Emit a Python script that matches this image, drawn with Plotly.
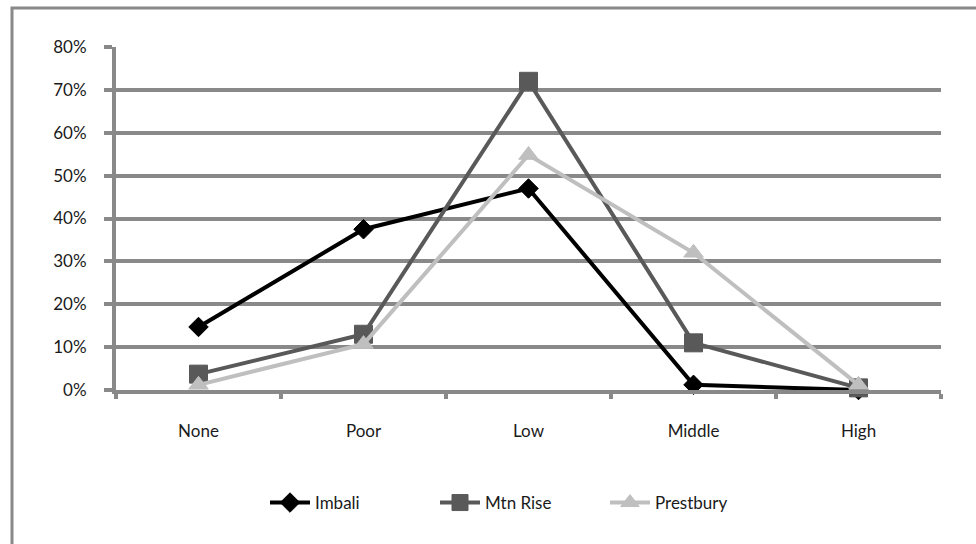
import plotly.graph_objects as go

categories = ["None", "Poor", "Low", "Middle", "High"]
imbali = [0.147, 0.375, 0.47, 0.012, 0.0]
mtn_rise = [0.037, 0.13, 0.72, 0.11, 0.005]
prestbury = [0.012, 0.107, 0.548, 0.32, 0.012]
y_ticks = [0, 0.1, 0.2, 0.3, 0.4, 0.5, 0.6, 0.7, 0.8]

W, H = 976, 544
L, R, T, B = 116, 35, 47, 154
pw, ph = W - L - R, H - T - B

grid = "#898989"
fig = go.Figure()
series = [
    ("Imbali", imbali, "#000000", "diamond", 15),
    ("Mtn Rise", mtn_rise, "#595959", "square", 18),
    ("Prestbury", prestbury, "#bfbfbf", "triangle-up", 17),
]
for name, vals, col, sym, sz in series:
    fig.add_trace(go.Scatter(
        x=categories, y=vals, name=name, mode="lines+markers",
        line=dict(color=col, width=4),
        marker=dict(symbol=sym, size=sz, color=col, line=dict(color=col, width=1)),
        cliponaxis=False,
    ))

def px_to_paper_x(px):
    return (px - L) / pw

def px_to_paper_y(py):
    return (H - B - py) / ph

fig.add_shape(type="rect", xref="paper", yref="paper",
              x0=px_to_paper_x(12), x1=px_to_paper_x(1000),
              y0=px_to_paper_y(580), y1=px_to_paper_y(8),
              line=dict(color=grid, width=3), fillcolor="rgba(0,0,0,0)", layer="below")

fig.update_layout(
    width=W, height=H,
    margin=dict(l=L, r=R, t=T, b=B),
    paper_bgcolor="white", plot_bgcolor="white",
    font=dict(family="Lato", size=17, color="#1a1a1a"),
    showlegend=True,
    legend=dict(orientation="h", x=px_to_paper_x(520), xanchor="center", y=px_to_paper_y(503), yanchor="middle",
                font=dict(size=17), itemwidth=40, entrywidth=115, tracegroupgap=0),
)
fig.update_xaxes(
    type="category", range=[-0.5, 4.5], tickson="boundaries",
    showgrid=False, showline=True, linecolor=grid, linewidth=4,
    ticks="outside", ticklen=5, tickwidth=4, tickcolor=grid,
    ticklabelstandoff=23, zeroline=False,
)
fig.update_yaxes(
    range=[0, 0.8], tickvals=y_ticks, tickformat=".0%",
    showgrid=True, gridcolor=grid, gridwidth=4,
    showline=True, linecolor=grid, linewidth=4,
    ticks="outside", ticklen=8, tickwidth=4, tickcolor=grid,
    ticklabelstandoff=14, zeroline=False,
)
fig.write_html("out.html")
